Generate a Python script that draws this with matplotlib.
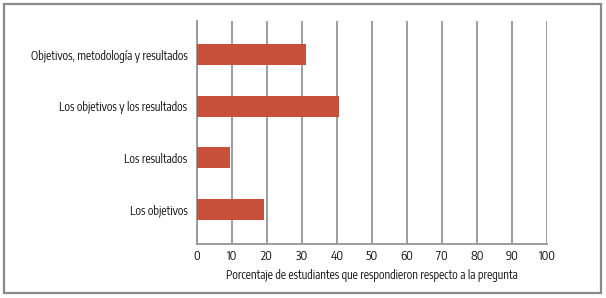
import matplotlib
matplotlib.use("Agg")
import matplotlib.pyplot as plt
from matplotlib.patches import Rectangle
from matplotlib import font_manager
from matplotlib.textpath import TextPath
from matplotlib.font_manager import FontProperties

categories = ["Los objetivos", "Los resultados", "Los objetivos y los resultados",
              "Objetivos, metodología y resultados"]
values = [19.1, 9.4, 40.5, 31.0]
xticks = [0, 10, 20, 30, 40, 50, 60, 70, 80, 90, 100]
xlabel = "Porcentaje de estudiantes que respondieron respecto a la pregunta"

names = {f.name for f in font_manager.fontManager.ttflist}
cands = ["Fira Sans Extra Condensed", "Fira Sans Condensed", "Encode Sans Condensed",
         "Roboto Condensed", "PT Sans Narrow", "Asap Condensed", "Archivo Narrow",
         "Ubuntu Condensed"]
target_ratio = 158 / 8.7
best, bestd = "DejaVu Sans", 1e9
for c in cands:
    if c not in names:
        continue
    try:
        fp = FontProperties(family=c)
        cap = TextPath((0, 0), "L", size=10, prop=fp).get_extents().height
        wid = TextPath((0, 0), categories[3], size=10, prop=fp).get_extents().width
        d = abs(wid / cap - target_ratio)
        if d < bestd:
            best, bestd = c, d
    except Exception:
        pass
fam = best
plt.rcParams["font.family"] = [fam, "DejaVu Sans"]
TC = "#111111"

W, H = 606, 298
fig = plt.figure(figsize=(W / 100, H / 100), dpi=100)
ax = fig.add_axes([197 / W, 1 - 244 / H, (547 - 197) / W, (244 - 21) / H])

r = fig.canvas.get_renderer()
def fit(txt, target):
    t = fig.text(0, 0, txt, fontsize=10)
    w = t.get_window_extent(r).width
    t.remove()
    return 10 * target / w

fs = fit(categories[3], 158)
fsx = fit(xlabel, 293)
fst = min(fit("100", 20), fs * 1.05)

ypos = list(range(len(categories)))
ax.barh(ypos, values, height=0.41, color="#C8503A", zorder=3)
ax.set_xlim(0, 100)
ax.set_ylim(-0.68, 3.66)
ax.set_xticks(xticks)
ax.set_xticklabels([str(t) for t in xticks], fontsize=fst, color=TC)
ax.set_yticks(ypos)
ax.set_yticklabels(categories, fontsize=fs, color=TC)
ax.tick_params(axis="y", length=0, pad=7)
ax.tick_params(axis="x", length=0, pad=4)
ax.grid(axis="x", color="#959595", linewidth=1.3, zorder=0)
for s in ["top", "right"]:
    ax.spines[s].set_visible(False)
for s in ["left", "bottom"]:
    ax.spines[s].set_color("#959595")
    ax.spines[s].set_linewidth(1.3)
ax.set_xlabel(xlabel, fontsize=fsx, color=TC, labelpad=5)

fig.patches.append(Rectangle((4 / W, 1 - 293 / H), (601 - 4) / W, (293 - 4) / H,
                             transform=fig.transFigure, fill=False,
                             edgecolor="#8a8a8a", linewidth=1.6))
fig.savefig("out.png", dpi=100)
